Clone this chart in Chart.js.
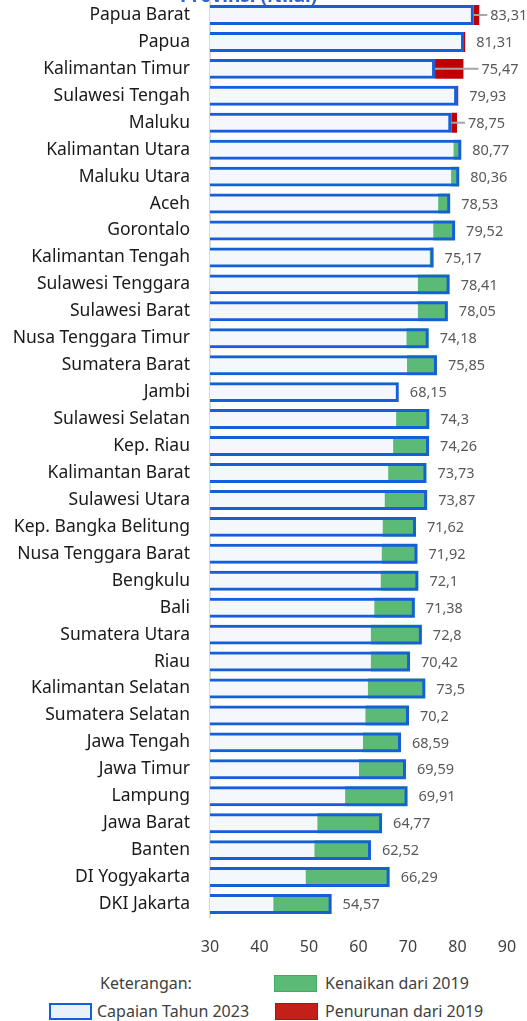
<!DOCTYPE html>
<html lang="id">
<head>
    <meta charset="UTF-8">
    <title>Capaian Provinsi (Nilai)</title>
    <script src="https://cdn.jsdelivr.net/npm/chart.js"></script>
    <style>
        body {
            margin: 0;
            background: #ffffff;
            font-family: "Noto Sans", sans-serif;
            width: 527px;
            height: 1021px;
            position: relative;
            overflow: hidden;
        }
        .judul {
            position: absolute;
            left: 180px;
            top: -15px;
            font-size: 19px;
            line-height: 20px;
            font-weight: bold;
            color: #2a67d4;
            z-index: 2;
            white-space: nowrap;
        }
        .chart-wrapper {
            position: absolute;
            left: 0;
            top: 0;
            width: 527px;
            height: 960px;
        }
        .keterangan {
            position: absolute;
            font-size: 16px;
            color: #404040;
            line-height: 18px;
            white-space: nowrap;
        }
        .kotak {
            position: absolute;
            width: 43px;
            height: 17px;
            box-sizing: border-box;
        }
    </style>
</head>
<body>
<div class="judul">Provinsi (Nilai)</div>

<div class="chart-wrapper">
    <canvas id="grafik"></canvas>
</div>

<!-- Keterangan -->
<div class="keterangan" style="left:100px; top:974px;">Keterangan:</div>
<div class="kotak" style="left:274px; top:975px; background:#5bbb76; border:1px solid #46a862;"></div>
<div class="keterangan" style="left:325px; top:974px;">Kenaikan dari 2019</div>
<div class="kotak" style="left:49px; top:1003px; background:#e9f1fb; border:2px solid #1560d9;"></div>
<div class="keterangan" style="left:97px; top:1002px;">Capaian Tahun 2023</div>
<div class="kotak" style="left:275px; top:1003px; background:#c4201a; border:1px solid #b01010;"></div>
<div class="keterangan" style="left:325px; top:1002px;">Penurunan dari 2019</div>

<script>
    const provinsi = ['Papua Barat', 'Papua', 'Kalimantan Timur', 'Sulawesi Tengah', 'Maluku',
        'Kalimantan Utara', 'Maluku Utara', 'Aceh', 'Gorontalo', 'Kalimantan Tengah',
        'Sulawesi Tenggara', 'Sulawesi Barat', 'Nusa Tenggara Timur', 'Sumatera Barat', 'Jambi',
        'Sulawesi Selatan', 'Kep. Riau', 'Kalimantan Barat', 'Sulawesi Utara', 'Kep. Bangka Belitung',
        'Nusa Tenggara Barat', 'Bengkulu', 'Bali', 'Sumatera Utara', 'Riau',
        'Kalimantan Selatan', 'Sumatera Selatan', 'Jawa Tengah', 'Jawa Timur', 'Lampung',
        'Jawa Barat', 'Banten', 'DI Yogyakarta', 'DKI Jakarta'];

    // capaian tahun 2023 (sesuai label)
    const nilai2023 = [83.31, 81.31, 75.47, 79.93, 78.75,
        80.77, 80.36, 78.53, 79.52, 75.17,
        78.41, 78.05, 74.18, 75.85, 68.15,
        74.3, 74.26, 73.73, 73.87, 71.62,
        71.92, 72.1, 71.38, 72.8, 70.42,
        73.5, 70.2, 68.59, 69.59, 69.91,
        64.77, 62.52, 66.29, 54.57];

    // perkiraan nilai 2019 (dibaca dari panjang batang)
    const nilai2019 = [84.4, 81.55, 81.2, 80.15, 79.9,
        79.2, 78.7, 76.1, 75.1, 74.4,
        72.0, 72.0, 69.7, 69.8, 68.15,
        67.6, 67.0, 66.0, 65.3, 64.9,
        64.7, 64.5, 63.2, 62.5, 62.5,
        61.9, 61.4, 60.9, 60.1, 57.3,
        51.7, 51.1, 49.35, 42.8];

    const tickX = [30, 40, 50, 60, 70, 80, 90];

    const kenaikan = nilai2023.map((v, i) => nilai2019[i] < v ? [nilai2019[i], v] : null);
    const penurunan = nilai2023.map((v, i) => nilai2019[i] > v ? [v, nilai2019[i]] : null);

    const BIRU = '#1560d9';
    const FONT = '"Noto Sans", sans-serif';

    // label nilai di ujung batang + garis penunjuk
    const labelNilai = {
        id: 'labelNilai',
        afterDatasetsDraw(chart) {
            const ctx = chart.ctx;
            const x = chart.scales.x;
            const y = chart.scales.y;
            const penunjuk = { 'Papua Barat': 11, 'Kalimantan Timur': 18, 'Maluku': 11 };
            ctx.save();
            ctx.font = '14.5px ' + FONT;
            ctx.textBaseline = 'middle';
            ctx.textAlign = 'left';
            provinsi.forEach((p, i) => {
                const ujung = x.getPixelForValue(Math.max(nilai2023[i], nilai2019[i]));
                const gap = penunjuk[p] || 11;
                const tx = ujung + gap;
                const ty = y.getPixelForValue(i);
                if (penunjuk[p]) {
                    ctx.strokeStyle = '#a6a6a6';
                    ctx.lineWidth = 2;
                    ctx.beginPath();
                    ctx.moveTo(x.getPixelForValue(nilai2023[i]), ty);
                    ctx.lineTo(tx - 3, ty);
                    ctx.stroke();
                }
                ctx.fillStyle = '#595959';
                ctx.fillText(String(nilai2023[i]).replace('.', ','), tx, ty + 1);
            });
            ctx.restore();
        }
    };

    const config = {
        type: 'bar',
        data: {
            labels: provinsi,
            datasets: [
                {
                    label: 'Capaian Tahun 2023',
                    data: nilai2023,
                    backgroundColor: '#f4f8fc',
                    borderWidth: 0,
                    order: 3
                },
                {
                    label: 'Kenaikan dari 2019',
                    data: kenaikan,
                    backgroundColor: '#5bbb76',
                    borderWidth: 0,
                    order: 2
                },
                {
                    label: 'Penurunan dari 2019',
                    data: penurunan,
                    backgroundColor: '#c00000',
                    borderWidth: 0,
                    order: 2
                },
                {
                    label: 'Capaian Tahun 2023 (garis)',
                    data: nilai2023,
                    backgroundColor: 'rgba(0,0,0,0)',
                    borderColor: BIRU,
                    borderWidth: 3,
                    borderSkipped: 'start',
                    order: 1
                }
            ]
        },
        options: {
            indexAxis: 'y',
            responsive: true,
            maintainAspectRatio: false,
            animation: false,
            grouped: false,
            barPercentage: 0.74,
            categoryPercentage: 1,
            layout: {
                padding: { top: 1.5, right: 20, bottom: 2.5, left: 0 }
            },
            plugins: {
                legend: { display: false },
                tooltip: { enabled: false }
            },
            scales: {
                x: {
                    min: 30,
                    max: 90,
                    afterBuildTicks: (scale) => {
                        scale.ticks = tickX.map(v => ({ value: v }));
                    },
                    afterFit: (scale) => {
                        scale.height = 40;
                        scale.paddingLeft = 0;
                        scale.paddingRight = 0;
                    },
                    grid: { display: false, drawTicks: false },
                    border: { display: false },
                    ticks: {
                        padding: 20,
                        color: '#404040',
                        font: { family: FONT, size: 16 }
                    }
                },
                y: {
                    grid: { display: false, drawTicks: false },
                    border: { display: true, color: '#d9d9d9', width: 2 },
                    afterFit: (scale) => {
                        scale.width = 210;
                        scale.paddingTop = 0;
                        scale.paddingBottom = 0;
                    },
                    ticks: {
                        padding: 20,
                        color: '#1a1a1a',
                        autoSkip: false,
                        font: { family: FONT, size: 17.5 }
                    }
                }
            }
        },
        plugins: [labelNilai]
    };

    const ctx = document.getElementById('grafik').getContext('2d');
    const grafik = new Chart(ctx, config);
</script>
</body>
</html>
